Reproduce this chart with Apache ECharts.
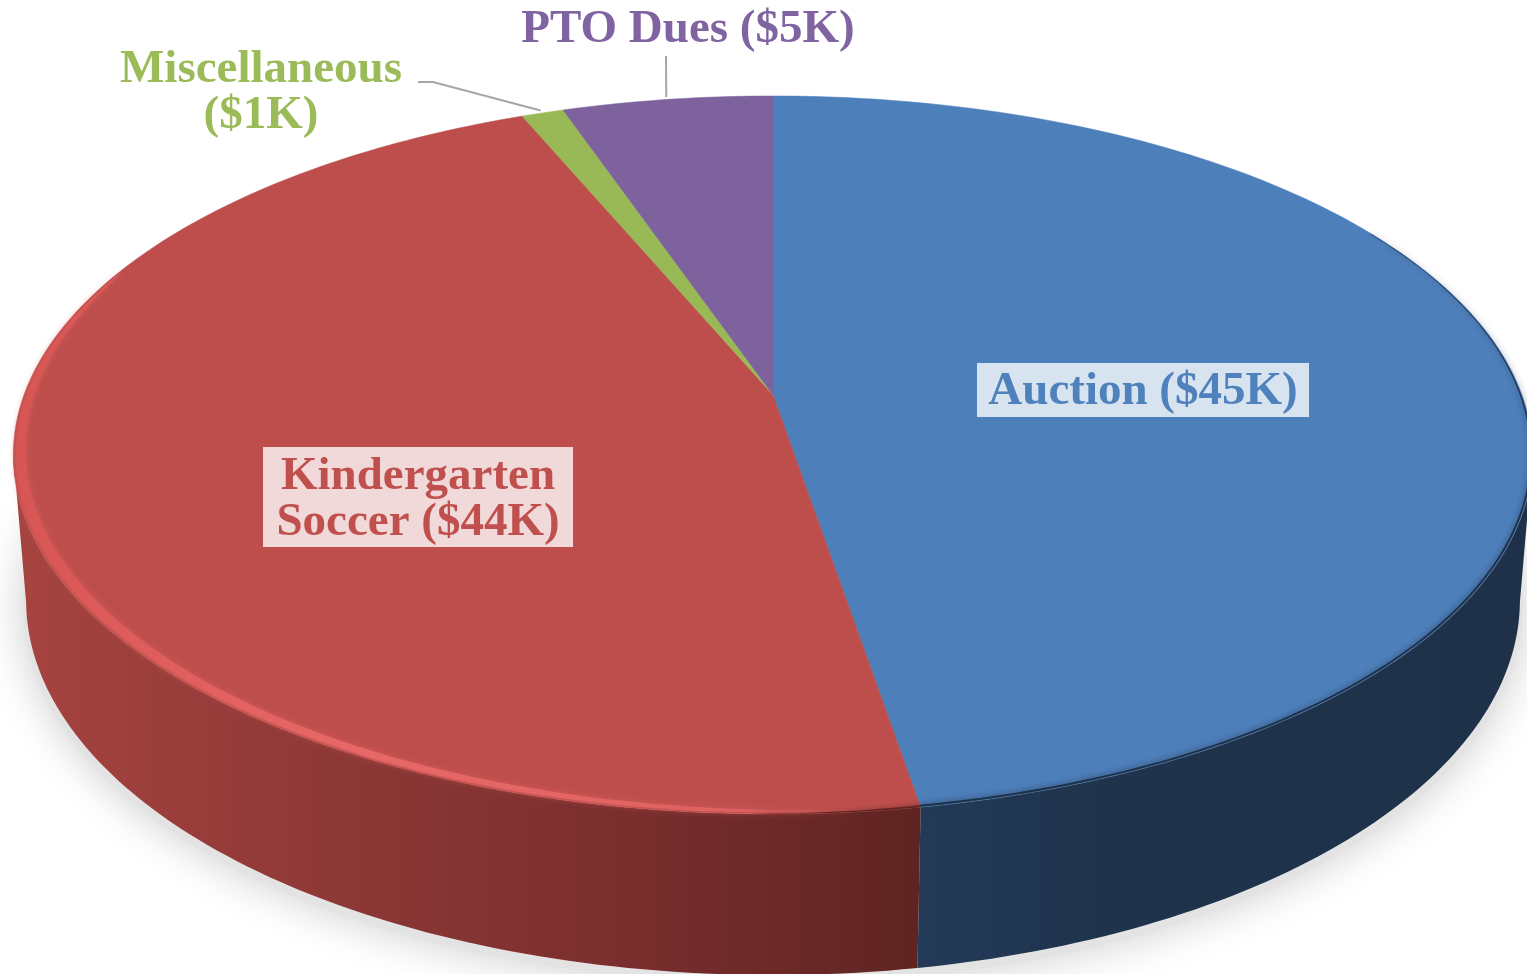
<!DOCTYPE html>
<html>
<head>
<meta charset="utf-8">
<style>
  html, body { margin: 0; padding: 0; background: #fff; }
  #chart { width: 1527px; height: 974px; }
</style>
<script src="https://cdn.jsdelivr.net/npm/echarts@6/dist/echarts.min.js"></script>
</head>
<body>
<div id="chart"></div>
<script>
const categories = ['Auction', 'Kindergarten Soccer', 'Miscellaneous', 'PTO Dues'];
const values = [45, 44, 1, 5];
const labelLines = ['Auction ($45K)', 'Kindergarten\nSoccer ($44K)', 'Miscellaneous\n($1K)', 'PTO Dues ($5K)'];

const topColors = ['#4d7fbb', '#bd4e4b', '#99b957', '#7e629d'];
const textColors = ['#4f81bd', '#c0504d', '#9bbb59', '#8064a2'];
const boxColors = ['#d8e3f0', '#f0d9d8', null, null];
const wallStops = [
  [[0, '#233a58'], [0.3, '#1f334c'], [1, '#1e3149']],
  [[0, '#a5433f'], [0.42, '#883634'], [0.65, '#7b2f2e'], [1, '#5f2422']]
];
const rimStops = [[0, '#d85654'], [0.1, '#df5c5b'], [0.38, '#ec6b6b'], [0.78, '#e36564'], [0.98, '#c04f4d']];

// label centres and boxes, in page pixels
const labelPos = [[1143, 392], [418, 500], [261, 93], [688, 30]];
const labelBox = [[977, 363, 332, 54], [263, 447, 310, 100], null, null];
const leaderStart = [null, null, [[418, 82], [433, 82]], [[666, 56]]];

// perspective of the disc: top face and bottom face of the cylinder
const topFace = { cx: 773, A: 749, a: 283, b: 395, c: -0.1671 };
const baseFace = { cx: 773, A: 737, a: 277.5, b: 539.1, c: -0.1625 };
// angles where the side wall turns out of sight
const wallLimits = [99.6, 260.4];

const total = values.reduce((s, v) => s + v, 0);
const startAngle = (i) => values.slice(0, i).reduce((s, v) => s + v, 0) / total * 360;

function project(face, deg, r = 1) {
  const t = deg * Math.PI / 180;
  const u = r * Math.sin(t);
  const v = -r * Math.cos(t);
  const d = face.c * v + 1;
  return [face.cx + face.A * u / d, (face.a * v + face.b) / d];
}

function arc(face, from, to, r = 1) {
  const pts = [];
  const n = Math.max(2, Math.ceil(Math.abs(to - from)));
  for (let i = 0; i <= n; i++) pts.push(project(face, from + (to - from) * i / n, r));
  return pts;
}

// thin strip just inside the rim of the top face
function rimBand(from, to, outerR, width) {
  const outer = arc(topFace, from, to, outerR);
  const inner = outer.map((_, i) => {
    const f = i / (outer.length - 1);
    return project(topFace, from + (to - from) * f, outerR - width(f));
  });
  return outer.concat(inner.reverse());
}

function hGradient(x0, x1, stops) {
  return {
    type: 'linear', x: x0, y: 0, x2: x1, y2: 0, global: true,
    colorStops: stops.map((s) => ({ offset: s[0], color: s[1] }))
  };
}

const simple = { coordinateSystem: 'none', silent: true, animation: false };

const option = {
  animation: false,
  backgroundColor: '#ffffff',
  series: [
    {
      ...simple, type: 'custom', name: 'shadow', z: 1, data: [total],
      renderItem: () => ({
        type: 'polygon',
        shape: { points: arc(baseFace, 0, 360, 1.004).map((p) => [p[0], p[1] + 6]) },
        style: { fill: '#e3e3e3', shadowBlur: 44, shadowColor: 'rgba(0,0,0,0.2)' }
      })
    },
    {
      ...simple, type: 'custom', name: 'walls', z: 2, data: values,
      renderItem: (params) => {
        const i = params.dataIndex;
        const from = Math.max(startAngle(i), wallLimits[0]);
        const to = Math.min(startAngle(i + 1), wallLimits[1]);
        if (to <= from) return null;
        const fill = i === 0 ? hGradient(917, 1527, wallStops[i]) : hGradient(27, 917, wallStops[i]);
        return {
          type: 'polygon',
          shape: { points: arc(topFace, from, to).concat(arc(baseFace, to, from)) },
          style: { fill }
        };
      }
    },
    {
      ...simple, type: 'custom', name: 'faces', z: 3, data: values,
      renderItem: (params, api) => {
        const i = params.dataIndex;
        const from = startAngle(i);
        const to = from + api.value(0) / total * 360;
        return {
          type: 'polygon',
          shape: { points: [project(topFace, 0, 0)].concat(arc(topFace, from, to)) },
          style: { fill: topColors[i], stroke: topColors[i], lineWidth: 0.5 }
        };
      }
    },
    {
      ...simple, type: 'custom', name: 'rims', z: 4, data: [total],
      renderItem: () => {
        const split = startAngle(1);
        return {
          type: 'group',
          children: [
            {
              type: 'polygon',
              shape: { points: rimBand(split + 4, 292, 0.997, (f) => 0.001 + 0.014 * Math.pow(Math.sin(Math.PI * f), 0.6)) },
              style: {
                fill: hGradient(14, 917, rimStops),
                opacity: 0.85,
                shadowBlur: 6,
                shadowColor: 'rgba(226,96,96,0.8)'
              }
            },
            {
              type: 'polygon',
              shape: { points: rimBand(split, split + 12, 1, (f) => 0.004 * (1 - f)) },
              style: { fill: '#5f2422', shadowBlur: 5, shadowColor: '#5f2422' }
            },
            {
              type: 'polygon',
              shape: { points: rimBand(60, split, 0.999, (f) => 0.001 + 0.003 * f) },
              style: { fill: '#1e3149', shadowBlur: 6, shadowColor: '#1e3149' }
            }
          ]
        };
      }
    },
    {
      ...simple, type: 'custom', name: 'labels', z: 5, data: values,
      renderItem: (params) => {
        const i = params.dataIndex;
        const children = [];
        if (labelBox[i]) {
          const b = labelBox[i];
          children.push({
            type: 'rect',
            shape: { x: b[0], y: b[1], width: b[2], height: b[3] },
            style: { fill: boxColors[i] }
          });
        }
        if (leaderStart[i]) {
          const mid = (startAngle(i) + startAngle(i + 1)) / 2;
          children.push({
            type: 'polyline',
            shape: { points: leaderStart[i].concat([project(topFace, mid, 1.01)]) },
            style: { stroke: '#a6a6a6', lineWidth: 2, fill: null }
          });
        }
        children.push({
          type: 'text',
          style: {
            text: labelLines[i],
            x: labelPos[i][0],
            y: labelPos[i][1],
            align: 'center',
            verticalAlign: 'middle',
            fill: textColors[i],
            font: 'bold 47px "Liberation Serif", serif',
            lineHeight: 46
          }
        });
        return { type: 'group', children };
      }
    }
  ]
};

const chart = echarts.init(document.getElementById('chart'), null, { width: 1527, height: 974 });
chart.setOption(option);
</script>
</body>
</html>
